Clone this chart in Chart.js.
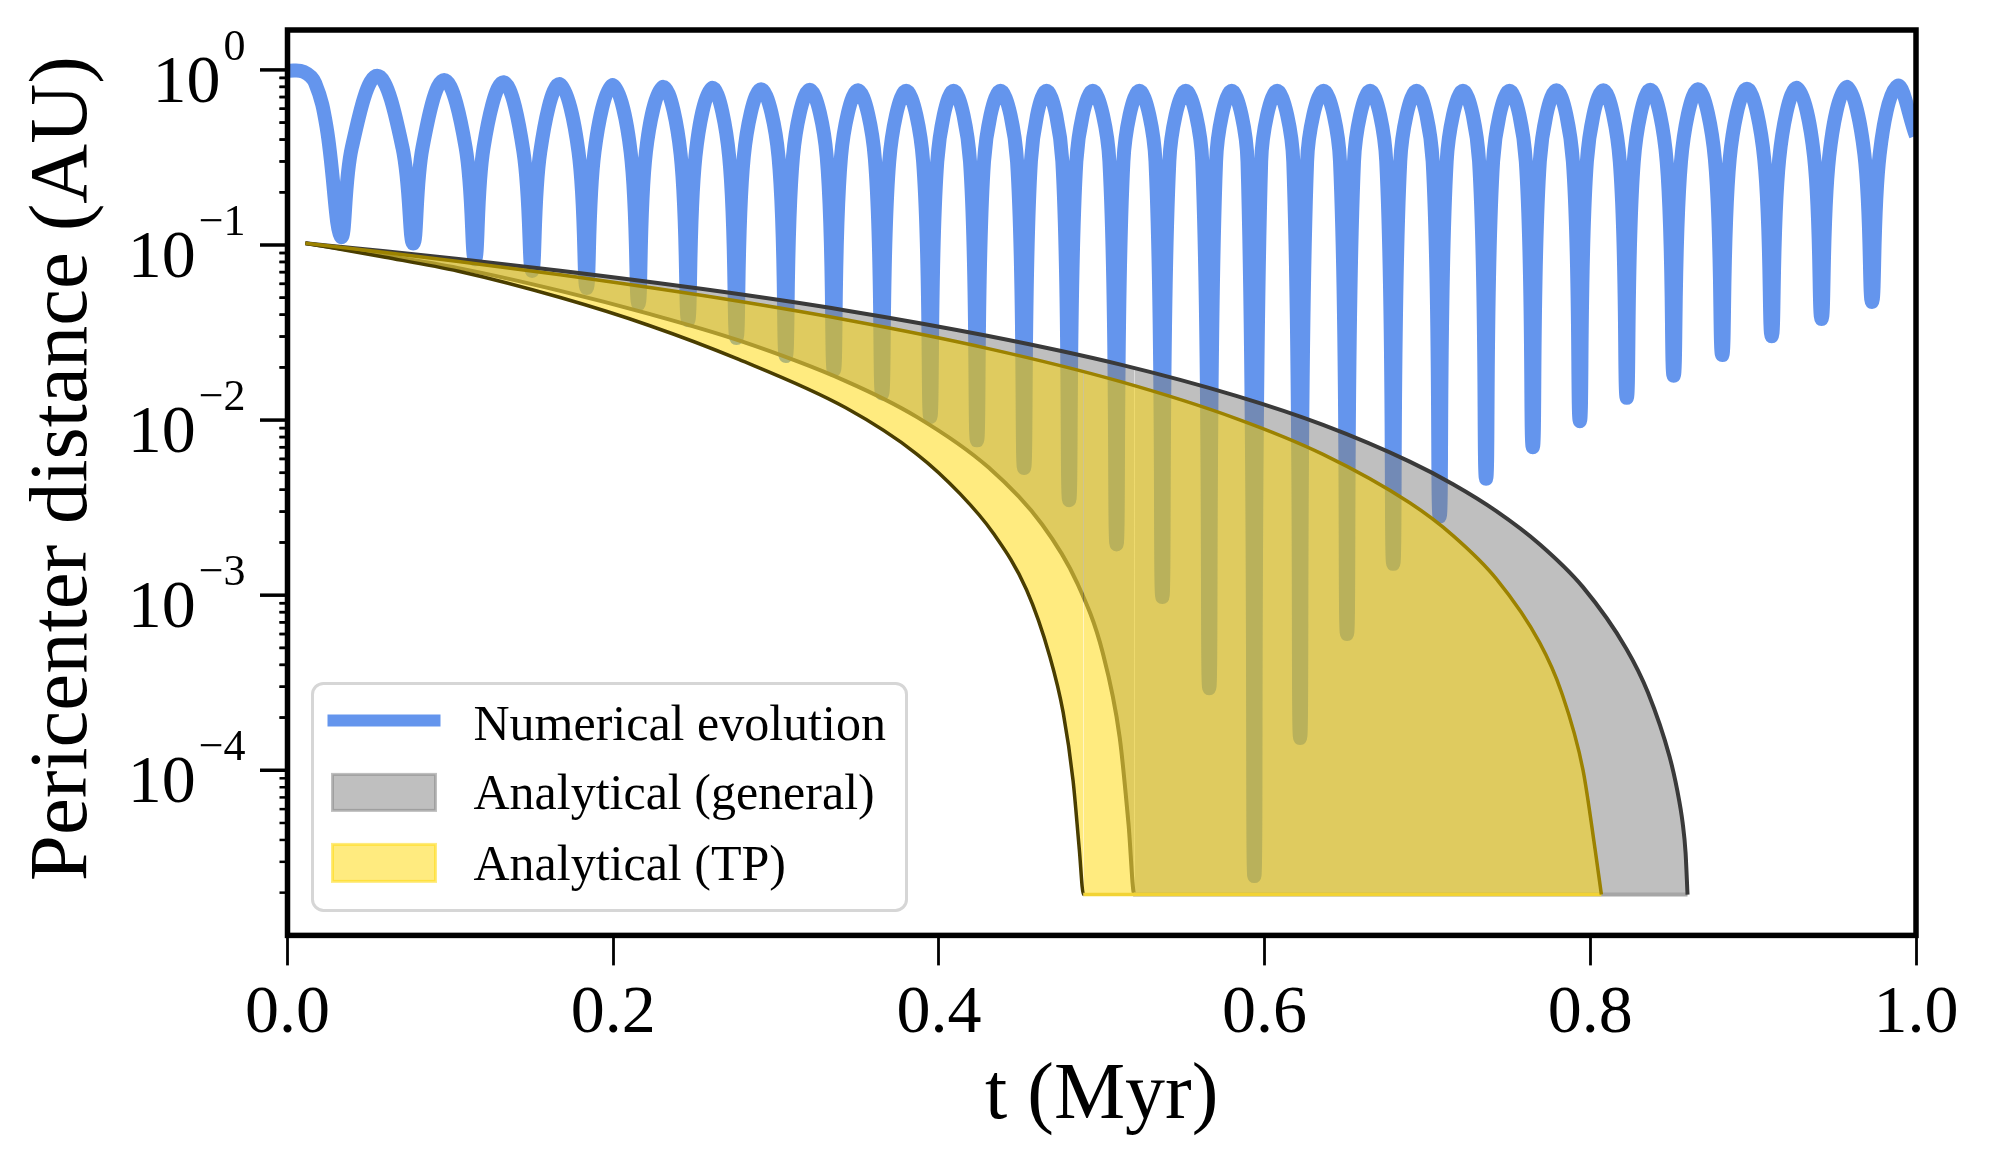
<!DOCTYPE html>
<html>
<head>
<meta charset="utf-8">
<script src="https://cdn.jsdelivr.net/npm/chart.js@4.4.0/dist/chart.umd.min.js"></script>
<style>
  html, body { margin: 0; padding: 0; background: #fff; }
  #wrap { width: 1990px; height: 1164px; }
</style>
</head>
<body>
<div id="wrap"><canvas id="chart" width="1990" height="1164"></canvas></div>
<script>
// numerical run: troughs, shoulders and crests (t in Myr, q in AU)
var numT = [0, 0.010, 0.017, 0.024,
  0.0329, 0.0395, 0.0551, 0.0706,  0.0772, 0.0829, 0.0962, 0.1094,
  0.1151, 0.1204, 0.1327, 0.1449,  0.1502, 0.1552, 0.1670, 0.1787,
  0.1837, 0.1885, 0.1996, 0.2107,  0.2155, 0.2201, 0.2308, 0.2414,
  0.2460, 0.2505, 0.2609, 0.2712,  0.2757, 0.2802, 0.2908, 0.3015,
  0.3060, 0.3104, 0.3207, 0.3311,  0.3355, 0.3399, 0.3503, 0.3607,
  0.3651, 0.3695, 0.3799, 0.3903,  0.3947, 0.3990, 0.4090, 0.4191,
  0.4234, 0.4277, 0.4378, 0.4480,  0.4523, 0.4565, 0.4661, 0.4758,
  0.4800, 0.4844, 0.4945, 0.5047,  0.5091, 0.5133, 0.5231, 0.5330,
  0.5372, 0.5415, 0.5516, 0.5617,  0.5660, 0.5702, 0.5798, 0.5895,
  0.5937, 0.5979, 0.6077, 0.6176,  0.6218, 0.6261, 0.6362, 0.6463,
  0.6506, 0.6549, 0.6648, 0.6747,  0.6790, 0.6833, 0.6933, 0.7032,
  0.7075, 0.7118, 0.7218, 0.7317,  0.7360, 0.7403, 0.7504, 0.7604,
  0.7647, 0.7690, 0.7792, 0.7893,  0.7936, 0.7979, 0.8080, 0.8181,
  0.8224, 0.8267, 0.8368, 0.8469,  0.8512, 0.8557, 0.8661, 0.8765,
  0.8810, 0.8856, 0.8962, 0.9068,  0.9114, 0.9160, 0.9267, 0.9374,
  0.9420, 0.9467, 0.9575, 0.9683,  0.9730, 0.9777, 0.9885, 1.0];
var numQ = [0.99, 0.975, 0.84, 0.47,
  0.111, 0.36, 0.925, 0.36,    0.102, 0.36, 0.877, 0.36,
  0.0828, 0.36, 0.85, 0.34,    0.0711, 0.34, 0.83, 0.34,
  0.0568, 0.34, 0.82, 0.34,    0.046, 0.34, 0.80, 0.33,
  0.0372, 0.32, 0.79, 0.32,    0.0294, 0.32, 0.775, 0.32,
  0.0232, 0.32, 0.77, 0.32,    0.0193, 0.32, 0.765, 0.31,
  0.0142, 0.30, 0.76, 0.30,    0.0104, 0.30, 0.76, 0.30,
  0.00766, 0.30, 0.76, 0.30,   0.00533, 0.30, 0.76, 0.30,
  0.00349, 0.30, 0.76, 0.30,   0.00195, 0.30, 0.76, 0.30,
  0.000975, 0.30, 0.76, 0.30,  0.000294, 0.30, 0.76, 0.30,
  0.0000249, 0.30, 0.76, 0.30, 0.000153, 0.30, 0.76, 0.30,
  0.0006, 0.30, 0.76, 0.30,    0.00151, 0.30, 0.76, 0.30,
  0.00282, 0.30, 0.76, 0.30,   0.00462, 0.30, 0.76, 0.30,
  0.0070, 0.30, 0.765, 0.30,   0.00986, 0.30, 0.765, 0.30,
  0.0134, 0.30, 0.77, 0.30,    0.0179, 0.30, 0.775, 0.31,
  0.0235, 0.31, 0.78, 0.31,    0.0301, 0.31, 0.79, 0.32,
  0.0378, 0.32, 0.80, 0.33,    0.0473, 0.33, 0.81, 0.42];

// analytical envelopes (general and test-particle), edges
var genUpT = [0.011, 0.06, 0.105, 0.1675, 0.2551, 0.3428, 0.4304, 0.511, 0.5826, 0.6359, 0.6891, 0.7157,
  0.7423, 0.7689, 0.7955, 0.8221, 0.8354, 0.8487, 0.8535, 0.8567, 0.8585, 0.8597];
var genUpQ = [0.1023, 0.0921, 0.0831, 0.0713, 0.0560, 0.0423, 0.0302, 0.0208, 0.01374, 0.00938, 0.00579, 0.0043,
  0.00302, 0.001954, 0.001112, 0.000495, 0.000278, 0.0001194, 0.0000759, 0.0000501, 0.0000339, 0.0000195];
var genLoT = [0.011, 0.06, 0.105, 0.1675, 0.2221, 0.2771, 0.3428, 0.3866, 0.4304, 0.4633, 0.4848, 0.5006,
  0.511, 0.5165, 0.520];
var genLoQ = [0.1023, 0.0871, 0.0738, 0.0547, 0.0404, 0.0285, 0.0167, 0.0104, 0.00537, 0.00254, 0.00118, 0.000469,
  0.0001545, 0.0000486, 0.0000195];
var tpUpT = [0.011, 0.06, 0.105, 0.1675, 0.2551, 0.3428, 0.4304, 0.511, 0.5826, 0.6359, 0.6891, 0.7157,
  0.7423, 0.7689, 0.7822, 0.7955, 0.803, 0.8068];
var tpUpQ = [0.1023, 0.0907, 0.0806, 0.0676, 0.0514, 0.0374, 0.0256, 0.01663, 0.0102, 0.00637, 0.00337, 0.00219,
  0.00124, 0.000536, 0.000281, 0.0001005, 0.000035, 0.0000195];
var tpLoT = [0.011, 0.06, 0.105, 0.1675, 0.2221, 0.2771, 0.3428, 0.3866, 0.4129, 0.4333, 0.4538, 0.4681,
  0.4763, 0.4824, 0.4862, 0.4888];
var tpLoQ = [0.1023, 0.0851, 0.0708, 0.0501, 0.0347, 0.0222, 0.01175, 0.00638, 0.0038, 0.002265, 0.001074, 0.000447,
  0.000214, 0.0000871, 0.0000355, 0.0000195];
var floorQ = 0.0000195;

var yDecades = [0, -1, -2, -3, -4];
var yMinor = [2, 3, 4, 5, 6, 7, 8, 9];
var legendNames = ['Numerical evolution', 'Analytical (general)', 'Analytical (TP)'];
var yTitle = 'Pericenter distance (AU)';

var serif = '"Liberation Serif", "Times New Roman", serif';
Chart.defaults.font.family = serif;
Chart.defaults.color = '#000';

function pts(ts, qs) {
    return ts.map(function (t, i) { return {x: t, y: qs[i]}; });
}

// lower edge runs along the floor to where the upper edge ends
function withFloor(ts, qs, tEnd) {
    var p = pts(ts, qs);
    p.push({x: tEnd, y: floorQ});
    return p;
}

function floorSeg(color) {
    return function (ctx) {
        if (ctx.p0.parsed.y <= floorQ * 1.001 && ctx.p1.parsed.y <= floorQ * 1.001) return color;
        return undefined;
    };
}

function drawPow(ctx, e, right, py) {
    var sup = e < 0 ? '\u2212' + (-e) : String(e);
    ctx.font = '44px ' + serif;
    var ws = ctx.measureText(sup).width;
    ctx.textAlign = 'left';
    ctx.textBaseline = 'alphabetic';
    ctx.fillText(sup, right - ws, py - 10);
    ctx.font = '68px ' + serif;
    ctx.textAlign = 'right';
    ctx.fillText('10', right - ws - 3, py + 32);
}

const decor = {
    id: 'decor',
    afterDraw(chart) {
        const ctx = chart.ctx, a = chart.chartArea, y = chart.scales.y;
        ctx.save();
        ctx.fillStyle = '#000';
        ctx.strokeStyle = '#000';
        // y ticks, major + minor
        yDecades.forEach(function (e) {
            var base = Math.pow(10, e);
            var py = y.getPixelForValue(base);
            ctx.lineWidth = 3.5;
            ctx.beginPath(); ctx.moveTo(a.left, py); ctx.lineTo(a.left - 27.5, py); ctx.stroke();
            drawPow(ctx, e, a.left - 42, py);
            [base / 10].concat([base]).forEach(function (b) {
                yMinor.forEach(function (k) {
                    var v = k * b;
                    if (v < y.min || v > y.max) return;
                    var p = y.getPixelForValue(v);
                    ctx.lineWidth = 2.5;
                    ctx.beginPath(); ctx.moveTo(a.left, p); ctx.lineTo(a.left - 8, p); ctx.stroke();
                });
            });
        });

        // y title
        ctx.save();
        ctx.translate(64, (a.top + a.bottom) / 2 - 14);
        ctx.rotate(-Math.PI / 2);
        ctx.font = '83px ' + serif;
        ctx.textAlign = 'center';
        ctx.textBaseline = 'middle';
        ctx.fillText(yTitle, 0, 0);
        ctx.restore();

        // frame
        ctx.lineWidth = 5.5;
        ctx.strokeRect(a.left, a.top, a.right - a.left, a.bottom - a.top);

        // legend
        var bx = a.left + 25, bw = 594, bh = 227, by = a.bottom - 25 - bh;
        ctx.beginPath();
        ctx.roundRect(bx, by, bw, bh, 11);
        ctx.fillStyle = 'rgba(255,255,255,0.8)';
        ctx.fill();
        ctx.lineWidth = 3;
        ctx.strokeStyle = '#d6d6d6';
        ctx.stroke();

        ctx.strokeStyle = '#6495ed';
        ctx.lineWidth = 12;
        ctx.beginPath(); ctx.moveTo(bx + 15, by + 37); ctx.lineTo(bx + 128, by + 37); ctx.stroke();

        ctx.lineWidth = 3;
        ctx.fillStyle = 'rgba(128,128,128,0.5)';
        ctx.strokeStyle = 'rgba(128,128,128,0.5)';
        ctx.fillRect(bx + 20, by + 91, 103, 36);
        ctx.strokeRect(bx + 20, by + 91, 103, 36);
        ctx.fillStyle = 'rgba(255,215,0,0.5)';
        ctx.strokeStyle = 'rgba(255,215,0,0.5)';
        ctx.fillRect(bx + 20, by + 161, 103, 37);
        ctx.strokeRect(bx + 20, by + 161, 103, 37);

        ctx.fillStyle = '#000';
        ctx.font = '50px ' + serif;
        ctx.textAlign = 'left';
        ctx.textBaseline = 'alphabetic';
        ctx.fillText(legendNames[0], bx + 161, by + 57);
        ctx.fillText(legendNames[1], bx + 161, by + 126);
        ctx.fillText(legendNames[2], bx + 161, by + 197);
        ctx.restore();
    }
};

new Chart(document.getElementById('chart'), {
    type: 'line',
    data: {
        datasets: [
            {
                label: legendNames[0], data: pts(numT, numQ),
                borderColor: '#6495ed', borderWidth: 14, borderJoinStyle: 'round',
                pointRadius: 0, tension: 0.4, fill: false, order: 10, clip: 0
            },
            {
                label: legendNames[1], data: pts(genUpT, genUpQ),
                borderColor: '#3a3a3a', borderWidth: 4, pointRadius: 0,
                cubicInterpolationMode: 'monotone', fill: false, order: 5, clip: 0
            },
            {
                label: 'general lower', data: withFloor(genLoT, genLoQ, genUpT[genUpT.length - 1]),
                borderColor: '#5a5a5a', borderWidth: 4, pointRadius: 0,
                cubicInterpolationMode: 'monotone', fill: 1,
                backgroundColor: 'rgba(128,128,128,0.5)', order: 6, clip: 0,
                segment: {borderColor: floorSeg('#a6a6a6')}
            },
            {
                label: legendNames[2], data: pts(tpUpT, tpUpQ),
                borderColor: '#9c8200', borderWidth: 3.5, pointRadius: 0,
                cubicInterpolationMode: 'monotone', fill: false, order: 3, clip: 0
            },
            {
                label: 'TP lower', data: withFloor(tpLoT, tpLoQ, tpUpT[tpUpT.length - 1]),
                borderColor: '#4a3e00', borderWidth: 3.5, pointRadius: 0,
                cubicInterpolationMode: 'monotone', fill: 3,
                backgroundColor: 'rgba(255,215,0,0.5)', order: 4, clip: 0,
                segment: {borderColor: floorSeg('#f2d335')}
            }
        ]
    },
    options: {
        responsive: false,
        animation: false,
        devicePixelRatio: 1,
        layout: {padding: {left: 0, right: 74, top: 30, bottom: 0}},
        plugins: {legend: {display: false}, tooltip: {enabled: false}},
        scales: {
            x: {
                type: 'linear', min: 0, max: 1,
                border: {display: false},
                grid: {drawOnChartArea: false, color: '#000', tickColor: '#000', tickLength: 30, tickWidth: 2.8},
                ticks: {
                    stepSize: 0.2, maxRotation: 0, padding: 8, color: '#000',
                    font: {size: 68, family: serif},
                    callback: function (v) { return Number(v).toFixed(1); }
                },
                title: {display: true, text: 't (Myr)', color: '#000', font: {size: 80, family: serif}, padding: {top: 0, bottom: 19}},
                afterFit: function (s) { s.height = 228.6; }
            },
            y: {
                type: 'logarithmic', min: 0.0000114, max: 1.69,
                border: {display: false},
                grid: {display: false},
                ticks: {display: false},
                afterFit: function (s) { s.width = 287.5; }
            }
        }
    },
    plugins: [decor]
});
</script>
</body>
</html>
